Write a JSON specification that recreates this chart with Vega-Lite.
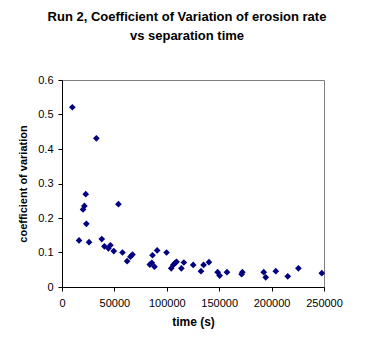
{
  "$schema": "https://vega.github.io/schema/vega-lite/v6.json",
  "autosize": "none",
  "width": 262,
  "height": 207,
  "padding": {"left": 62, "top": 80, "right": 50, "bottom": 64},
  "background": "white",
  "title": {
    "text": ["Run 2, Coefficient of Variation of erosion rate", "vs separation time"],
    "font": "Liberation Sans",
    "fontSize": 13,
    "fontWeight": "bold",
    "color": "black",
    "lineHeight": 19,
    "anchor": "middle",
    "dx": -6,
    "offset": 31
  },
  "config": {
    "view": {"stroke": "#808080", "strokeWidth": 1},
    "axis": {
      "labelFont": "Liberation Sans",
      "labelFontSize": 11,
      "labelColor": "black",
      "labelOverlap": false,
      "labelFlush": false,
      "titleFont": "Liberation Sans",
      "titleFontSize": 11,
      "titleFontWeight": "bold",
      "titleColor": "black",
      "domainColor": "black",
      "tickColor": "black",
      "grid": false,
      "tickSize": 4
    }
  },
  "data": {
    "values": [
      {"t": 9870, "cv": 0.521},
      {"t": 32800, "cv": 0.431},
      {"t": 22650, "cv": 0.269},
      {"t": 21350, "cv": 0.235},
      {"t": 20080, "cv": 0.225},
      {"t": 23250, "cv": 0.183},
      {"t": 16250, "cv": 0.135},
      {"t": 25800, "cv": 0.13},
      {"t": 53850, "cv": 0.24},
      {"t": 37950, "cv": 0.139},
      {"t": 40450, "cv": 0.118},
      {"t": 44300, "cv": 0.112},
      {"t": 46200, "cv": 0.121},
      {"t": 49400, "cv": 0.104},
      {"t": 57700, "cv": 0.1},
      {"t": 62150, "cv": 0.075},
      {"t": 65300, "cv": 0.088},
      {"t": 67250, "cv": 0.094},
      {"t": 83800, "cv": 0.065},
      {"t": 85700, "cv": 0.07},
      {"t": 86350, "cv": 0.092},
      {"t": 88250, "cv": 0.059},
      {"t": 90800, "cv": 0.106},
      {"t": 99750, "cv": 0.1},
      {"t": 104200, "cv": 0.054},
      {"t": 106100, "cv": 0.064},
      {"t": 108000, "cv": 0.07},
      {"t": 109300, "cv": 0.073},
      {"t": 113900, "cv": 0.054},
      {"t": 116300, "cv": 0.071},
      {"t": 125200, "cv": 0.064},
      {"t": 132600, "cv": 0.046},
      {"t": 135100, "cv": 0.064},
      {"t": 140200, "cv": 0.072},
      {"t": 148500, "cv": 0.043},
      {"t": 150400, "cv": 0.033},
      {"t": 157400, "cv": 0.043},
      {"t": 171400, "cv": 0.037},
      {"t": 172100, "cv": 0.043},
      {"t": 192500, "cv": 0.043},
      {"t": 194400, "cv": 0.028},
      {"t": 204000, "cv": 0.046},
      {"t": 215400, "cv": 0.031},
      {"t": 225600, "cv": 0.054},
      {"t": 247900, "cv": 0.04}
    ]
  },
  "mark": {"type": "point", "shape": "diamond", "filled": true, "color": "#000080", "opacity": 1, "size": 45},
  "encoding": {
    "x": {
      "field": "t",
      "type": "quantitative",
      "scale": {"domain": [0, 250000], "nice": false},
      "axis": {"values": [0, 50000, 100000, 150000, 200000, 250000], "format": "d", "title": "time (s)", "labelPadding": 6, "titlePadding": 8, "titleFontSize": 12}
    },
    "y": {
      "field": "cv",
      "type": "quantitative",
      "scale": {"domain": [0, 0.6], "nice": false},
      "axis": {"values": [0, 0.1, 0.2, 0.3, 0.4, 0.5, 0.6], "format": ".1~f", "title": "coefficient of variation", "labelPadding": 5, "titlePadding": 9}
    }
  }
}
